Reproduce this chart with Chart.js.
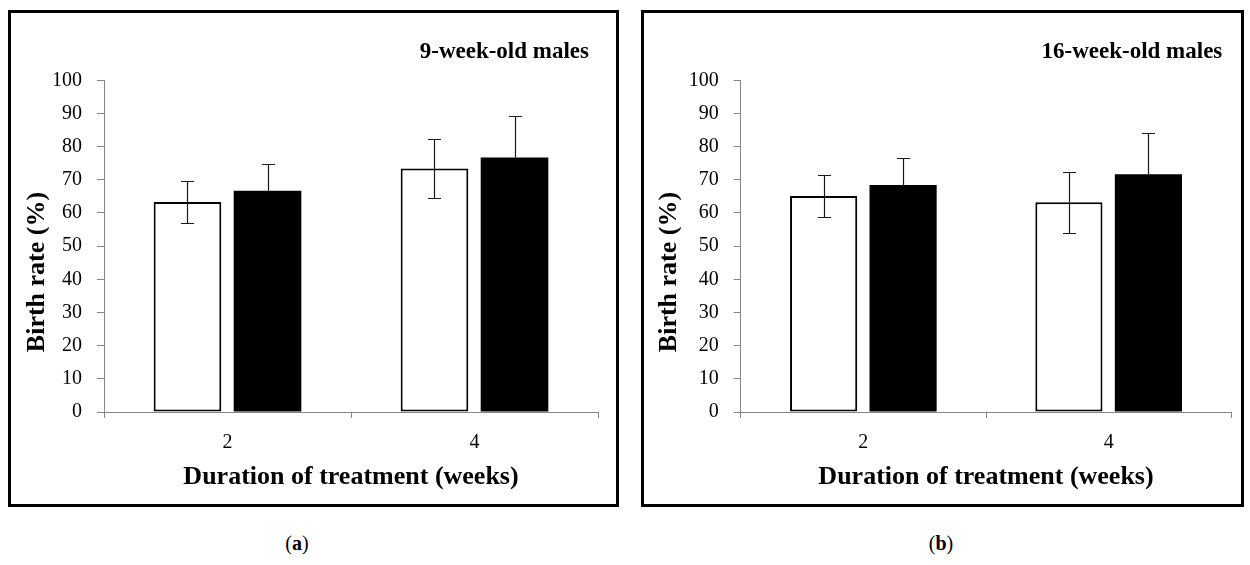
<!DOCTYPE html>
<html>
<head>
<meta charset="utf-8">
<script src="https://cdn.jsdelivr.net/npm/chart.js@4/dist/chart.umd.min.js"></script>
<style>
  html, body { margin: 0; padding: 0; background: #fff; }
  body { width: 1250px; height: 565px; position: relative; overflow: hidden; font-family: "Liberation Serif", serif; }
  .frame { position: absolute; box-sizing: border-box; border: 3px solid #000; background: #fff; }
  canvas { position: absolute; }
  .sub { position: absolute; font-family: "Liberation Serif", serif; font-size: 20px; color: #000; text-align: center; width: 60px; }
</style>
</head>
<body>
<div class="frame" style="left:8px; top:10px; width:611px; height:497px;"></div>
<div class="frame" style="left:641px; top:10px; width:603px; height:497px;"></div>
<canvas id="chartA" width="604" height="490" style="left:11px; top:13px;"></canvas>
<canvas id="chartB" width="596" height="490" style="left:644px; top:13px;"></canvas>
<div class="sub" style="left:267px; top:532px;">(<b>a</b>)</div>
<div class="sub" style="left:911px; top:532px;">(<b>b</b>)</div>
<script>
// ---- data ----
const categories = ['2', '4'];
const yTicks = [0, 10, 20, 30, 40, 50, 60, 70, 80, 90, 100];
const titleA = '9-week-old males';
const titleB = '16-week-old males';
const xTitle = 'Duration of treatment (weeks)';
const yTitle = 'Birth rate (%)';
// panel (a)
const whiteA = [63.3, 73.4];
const whiteErrA = [6.4, 8.9];
const blackA = [66.7, 76.7];
const blackErrA = [8.0, 12.6];
// panel (b)
const whiteB = [65.1, 63.2];
const whiteErrB = [6.2, 9.1];
const blackB = [68.4, 71.7];
const blackErrB = [8.1, 12.5];

const FONT = "'Liberation Serif', 'Times New Roman', serif";
const AXIS_GREY = '#868686';

const errorBarPlugin = {
  id: 'errorBars',
  afterDatasetsDraw(chart) {
    const ctx = chart.ctx;
    const y = chart.scales.y;
    ctx.save();
    ctx.strokeStyle = '#1a1a1a';
    ctx.lineWidth = 1.2;
    chart.data.datasets.forEach((ds, di) => {
      const meta = chart.getDatasetMeta(di);
      meta.data.forEach((bar, i) => {
        const v = ds.data[i], e = ds.errors[i];
        const x = Math.round(bar.x) + 0.5;
        const yTop = Math.round(y.getPixelForValue(v + e)) + 0.5;
        const yBot = Math.round(y.getPixelForValue(v - e)) + 0.5;
        const yMid = y.getPixelForValue(v);
        const cap = 6.5;
        ctx.beginPath();
        ctx.moveTo(x, yTop);
        ctx.lineTo(x, ds.showLowerError ? yBot : yMid);
        ctx.moveTo(x - cap, yTop); ctx.lineTo(x + cap, yTop);
        if (ds.showLowerError) { ctx.moveTo(x - cap, yBot); ctx.lineTo(x + cap, yBot); }
        ctx.stroke();
      });
    });
    ctx.restore();
  }
};

const textPlugin = {
  id: 'panelText',
  afterDraw(chart, args, opts) {
    const ctx = chart.ctx;
    const ca = chart.chartArea;
    ctx.save();
    ctx.fillStyle = '#000';
    // corner title
    ctx.font = 'bold 23px ' + FONT;
    ctx.textAlign = 'right';
    ctx.textBaseline = 'alphabetic';
    ctx.fillText(opts.title, ca.right - 9, 44.5);
    // y axis title (rotated)
    ctx.font = 'bold 26px ' + FONT;
    ctx.translate(ca.left - opts.yTitleOffset, ca.bottom - 140);
    ctx.rotate(-Math.PI / 2);
    ctx.textAlign = 'center';
    ctx.textBaseline = 'middle';
    ctx.fillText(yTitle, 0, 0);
    ctx.restore();
  }
};

function makeChart(id, white, whiteErr, black, blackErr, title, yWidth, rightPad, yTitleOffset) {
  return new Chart(document.getElementById(id), {
    type: 'bar',
    data: {
      labels: categories,
      datasets: [
        { data: white, errors: whiteErr, showLowerError: true, backgroundColor: '#ffffff', borderColor: '#000000', borderWidth: 2, borderSkipped: false },
        { data: black, errors: blackErr, showLowerError: false, backgroundColor: '#000000', borderColor: '#000000', borderWidth: 0 }
      ]
    },
    options: {
      responsive: false,
      animation: false,
      devicePixelRatio: 1,
      categoryPercentage: 0.648,
      barPercentage: 0.845,
      layout: { padding: { top: 67.3, right: rightPad, bottom: 0, left: 0 } },
      plugins: {
        legend: { display: false },
        tooltip: { enabled: false },
        title: { display: false },
        panelText: { title: title, yTitleOffset: yTitleOffset }
      },
      scales: {
        x: {
          grid: { display: true, drawOnChartArea: false, offset: true, tickLength: 6, color: AXIS_GREY, lineWidth: 1 },
          border: { display: true, color: AXIS_GREY, width: 1 },
          ticks: { color: '#000', font: { family: FONT, size: 20 }, padding: 13 },
          title: { display: true, text: xTitle, color: '#000', font: { family: FONT, size: 26, weight: 'bold' }, padding: { top: 0, bottom: 10.4 } },
          afterFit(scale) { scale.height = 91; }
        },
        y: {
          min: 0, max: 100,
          afterBuildTicks(scale) { scale.ticks = yTicks.map(v => ({ value: v })); },
          grid: { display: true, drawOnChartArea: false, tickLength: 7, color: AXIS_GREY, lineWidth: 1 },
          border: { display: true, color: AXIS_GREY, width: 1 },
          ticks: { color: '#000', font: { family: FONT, size: 20 }, padding: 15 },
          title: { display: false },
          afterFit(scale) { scale.width = yWidth; }
        }
      }
    },
    plugins: [errorBarPlugin, textPlugin]
  });
}

makeChart('chartA', whiteA, whiteErrA, blackA, blackErrA, titleA, 93, 17, 67);
makeChart('chartB', whiteB, whiteErrB, blackB, blackErrB, titleB, 96.7, 8.7, 71);
</script>
</body>
</html>
